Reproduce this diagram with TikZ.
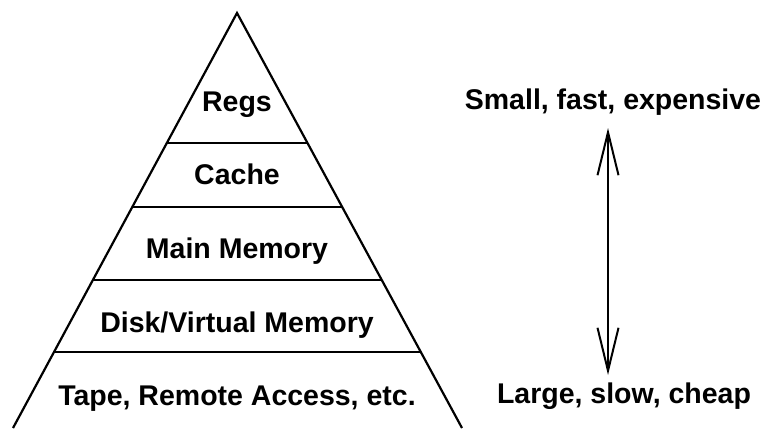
\documentclass[tikz,border=0pt]{standalone}
\usepackage{fontspec}
\setmainfont{Liberation Sans}
\usetikzlibrary{arrows.meta,positioning,calc}
\tikzset{
  >={Straight Barb[length=43pt,width=21pt,line width=2pt]},
  level/.style={anchor=base,inner sep=0pt,font=\fontsize{28.5}{34}\selectfont\bfseries},
  edge/.style={line width=2.2pt},
  arrow/.style={<->,line width=2.2pt},
}
\begin{document}
\begin{tikzpicture}[x=1pt,y=-1pt]
  \useasboundingbox (0,0) rectangle (767,428);
  % pyramid
  \coordinate (apex) at (237,13);
  \coordinate (bl) at (13,428);
  \coordinate (br) at (462,428);
  \draw[edge,line join=miter] (bl) -- (apex) -- (br);
  \foreach \t in {0.313,0.467,0.643,0.817}
    \draw[edge] ($(apex)!\t!(bl)$) -- ($(apex)!\t!(br)$);
  % levels
  \node[level] (regs) at (237,111) {Regs};
  \node[level] (cache) at (237,184) {Cache};
  \node[level] (main) at (237,258) {Main Memory};
  \node[level] (disk) at (237,332) {Disk/Virtual Memory};
  \node[level] (tape) at (237,405) {Tape, Remote Access, etc.};
  % scale
  \node[level] (small) at (613,109) {Small, fast, expensive};
  \node[level] (large) at (624,403) {Large, slow, cheap};
  \coordinate (top) at (608,128);
  \coordinate (bot) at (608,375);
  \draw[arrow] (top) -- (bot);
\end{tikzpicture}
\end{document}
